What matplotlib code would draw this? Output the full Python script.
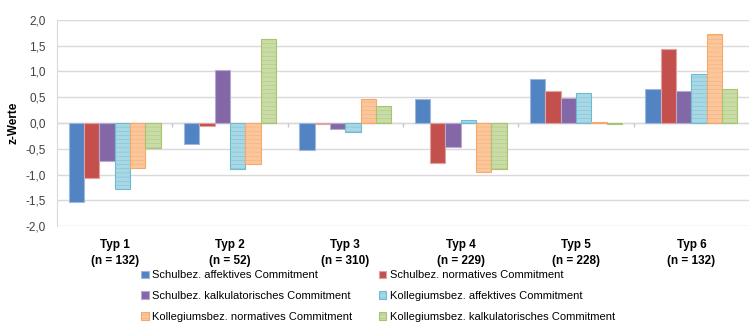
import matplotlib.pyplot as plt
import numpy as np
from matplotlib.ticker import FuncFormatter, MultipleLocator

plt.rcParams["font.family"] = ["Liberation Sans", "DejaVu Sans"]
plt.rcParams["hatch.linewidth"] = 0.3

categories = ["Typ 1\n(n = 132)", "Typ 2\n(n = 52)", "Typ 3\n(n = 310)",
              "Typ 4\n(n = 229)", "Typ 5\n(n = 228)", "Typ 6\n(n = 132)"]

series_names = [
    "Schulbez. affektives Commitment",
    "Schulbez. normatives Commitment",
    "Schulbez. kalkulatorisches Commitment",
    "Kollegiumsbez. affektives Commitment",
    "Kollegiumsbez. normatives Commitment",
    "Kollegiumsbez. kalkulatorisches Commitment",
]

schul_affektiv = [-1.53, -0.40, -0.53, 0.47, 0.86, 0.66]
schul_normativ = [-1.07, -0.05, -0.01, -0.77, 0.63, 1.44]
schul_kalkul = [-0.73, 1.03, -0.12, -0.46, 0.48, 0.62]
koll_affektiv = [-1.29, -0.90, -0.18, 0.05, 0.59, 0.96]
koll_normativ = [-0.87, -0.79, 0.46, -0.95, 0.02, 1.73]
koll_kalkul = [-0.49, 1.64, 0.33, -0.89, -0.02, 0.66]

values = [schul_affektiv, schul_normativ, schul_kalkul,
          koll_affektiv, koll_normativ, koll_kalkul]

fills = ["#5283C2", "#C4504E", "#8467A7", "#A9D8E5", "#FBC69C", "#C9DBA6"]
edges = ["#9FB9DD", "#DFA3A1", "#B9A9CE", "#6CBBD2", "#F8A868", "#A9C46E"]
hatches = ["", "", "", "----", "----", "----"]

fig = plt.figure(figsize=(7.49, 3.22), dpi=100)
ax = fig.add_axes([0.076, 0.298, 0.924, 0.64])

x = np.arange(len(categories))
width = 0.133
for i, (name, vals) in enumerate(zip(series_names, values)):
    offs = x + (i - 2.5) * width
    ax.bar(offs, vals, width, color=fills[i], edgecolor=edges[i],
           hatch=hatches[i], linewidth=0.8, label=name, zorder=3)

ax.set_xlim(-0.5, len(categories) - 0.5)
ax.set_ylim(-2.0, 2.0)
ax.yaxis.set_major_locator(MultipleLocator(0.5))
ax.yaxis.set_major_formatter(FuncFormatter(lambda v, p: f"{v:.1f}".replace(".", ",")))
ax.grid(True, axis="y", color="#D9D9D9", linewidth=1, zorder=0)
ax.axhline(0, color="#D9D9D9", linewidth=1, zorder=2)
bounds = np.arange(len(categories) + 1) - 0.5
ax.vlines(bounds[1:-1], -0.07, 0, color="#C8C8C8", linewidth=1, zorder=2)

for s in ["top", "right", "bottom"]:
    ax.spines[s].set_visible(False)
ax.spines["left"].set_color("#D9D9D9")

ax.set_xticks(x)
ax.set_xticklabels(categories, fontsize=8.5, fontweight="bold", linespacing=1.45)
ax.tick_params(axis="x", length=0, pad=9)
ax.tick_params(axis="y", length=0, labelsize=8.5, colors="#404040", pad=8)
ax.set_ylabel("z-Werte", fontsize=8.5, fontweight="bold", labelpad=4)

handles, labels = ax.get_legend_handles_labels()
order = [0, 2, 4, 1, 3, 5]
leg = fig.legend([handles[k] for k in order], [labels[k] for k in order],
                 ncol=2, loc="upper left", bbox_to_anchor=(0.188, 0.16),
                 frameon=False, fontsize=8, handlelength=0.7, handleheight=0.7,
                 handletextpad=0.3, columnspacing=2.4, labelspacing=0.95,
                 borderpad=0, borderaxespad=0)

fig.savefig("out.png", dpi=100)
